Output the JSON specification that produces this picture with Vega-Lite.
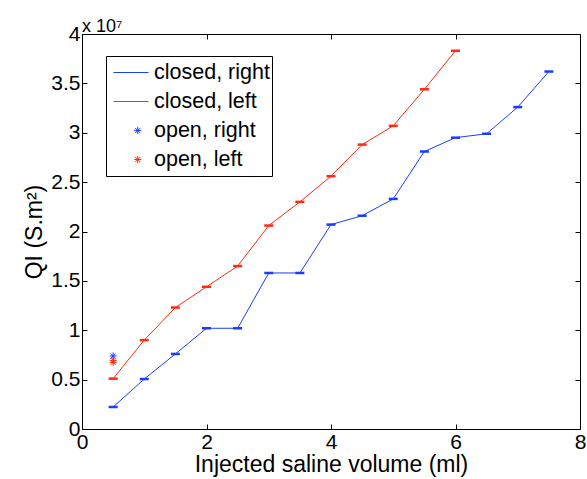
{
  "$schema": "https://vega.github.io/schema/vega-lite/v6.json",
  "width": 498,
  "height": 395,
  "autosize": {"type": "none"},
  "padding": {"left": 82, "top": 34, "right": 7, "bottom": 50},
  "title": {"text": "x 10⁷", "anchor": "start", "frame": "group", "fontSize": 18, "fontWeight": "normal", "font": "Liberation Sans", "offset": -13, "color": "black"},
  "config": {
    "view": {"stroke": "black", "strokeWidth": 1},
    "font": "Liberation Sans",
    "axis": {
      "grid": false, "domain": false, "tickColor": "black", "tickSize": -5, "labelFlush": false,
      "labelFontSize": 21, "labelColor": "black", "labelFont": "Liberation Sans",
      "titleFontSize": 23, "titleFontWeight": "normal", "titleColor": "black", "titleFont": "Liberation Sans"
    }
  },
  "data": {"values": [
    {"series": "closed, right", "x": 0.5, "y": 2230000},
    {"series": "closed, right", "x": 1.0, "y": 5060000},
    {"series": "closed, right", "x": 1.5, "y": 7600000},
    {"series": "closed, right", "x": 2.0, "y": 10200000},
    {"series": "closed, right", "x": 2.5, "y": 10200000},
    {"series": "closed, right", "x": 3.0, "y": 15800000},
    {"series": "closed, right", "x": 3.5, "y": 15800000},
    {"series": "closed, right", "x": 4.0, "y": 20700000},
    {"series": "closed, right", "x": 4.5, "y": 21600000},
    {"series": "closed, right", "x": 5.0, "y": 23300000},
    {"series": "closed, right", "x": 5.5, "y": 28100000},
    {"series": "closed, right", "x": 6.0, "y": 29500000},
    {"series": "closed, right", "x": 6.5, "y": 29900000},
    {"series": "closed, right", "x": 7.0, "y": 32600000},
    {"series": "closed, right", "x": 7.5, "y": 36200000},
    {"series": "closed, left", "x": 0.5, "y": 5100000},
    {"series": "closed, left", "x": 1.0, "y": 9000000},
    {"series": "closed, left", "x": 1.5, "y": 12300000},
    {"series": "closed, left", "x": 2.0, "y": 14400000},
    {"series": "closed, left", "x": 2.5, "y": 16500000},
    {"series": "closed, left", "x": 3.0, "y": 20600000},
    {"series": "closed, left", "x": 3.5, "y": 23000000},
    {"series": "closed, left", "x": 4.0, "y": 25600000},
    {"series": "closed, left", "x": 4.5, "y": 28800000},
    {"series": "closed, left", "x": 5.0, "y": 30700000},
    {"series": "closed, left", "x": 5.5, "y": 34400000},
    {"series": "closed, left", "x": 6.0, "y": 38300000},
    {"series": "open, right", "x": 0.5, "y": 7400000},
    {"series": "open, left", "x": 0.5, "y": 6950000},
    {"series": "open, left", "x": 0.5, "y": 6750000}
  ]},
  "layer": [
    {
      "transform": [{"filter": "indexof(datum.series, 'closed') == 0"}],
      "mark": {"type": "line", "strokeWidth": 1},
      "encoding": {
        "x": {"field": "x", "type": "quantitative", "scale": {"domain": [0, 8]}, "axis": {"orient": "bottom", "title": "Injected saline volume (ml)", "values": [0, 2, 4, 6, 8], "labelPadding": 7, "titlePadding": 1}},
        "y": {"field": "y", "type": "quantitative", "scale": {"domain": [0, 40000000]}, "axis": {"orient": "left", "title": "QI (S.m²)", "values": [0, 5000000, 10000000, 15000000, 20000000, 25000000, 30000000, 35000000, 40000000], "labelExpr": "datum.value / 10000000", "labelPadding": 7, "titlePadding": 4}},
        "stroke": {
          "field": "series", "type": "nominal",
          "scale": {"domain": ["closed, right", "closed, left", "open, right", "open, left"], "range": ["#1a3cff", "#ff2a10", "transparent", "transparent"]},
          "legend": {
            "title": null, "orient": "none", "legendX": 24, "legendY": 22,
            "strokeColor": "black", "fillColor": "transparent", "padding": 2,
            "labelFontSize": 21.5, "labelFont": "Liberation Sans", "labelColor": "black",
            "symbolType": "stroke", "symbolSize": 1225, "symbolStrokeWidth": 1, "symbolOffset": 5, "labelOffset": 5,
            "clipHeight": 29, "rowPadding": 0
          }
        }
      }
    },
    {
      "transform": [{"filter": "indexof(datum.series, 'closed') == 0"}],
      "mark": {"type": "point", "filled": false, "shape": "M-1,0H1", "size": 81, "strokeWidth": 2.5, "opacity": 1},
      "encoding": {
        "x": {"field": "x", "type": "quantitative", "scale": {"domain": [0, 8]}, "axis": {"orient": "top", "labels": false, "title": null, "values": [0, 2, 4, 6, 8]}},
        "y": {"field": "y", "type": "quantitative", "scale": {"domain": [0, 40000000]}, "axis": {"orient": "right", "labels": false, "title": null, "values": [0, 5000000, 10000000, 15000000, 20000000, 25000000, 30000000, 35000000, 40000000]}},
        "stroke": {
          "field": "series", "type": "nominal",
          "scale": {"domain": ["closed, right", "closed, left", "open, right", "open, left"], "range": ["#1a3cff", "#ff2a10", "transparent", "transparent"]},
          "legend": null
        }
      }
    },
    {
      "transform": [{"filter": "indexof(datum.series, 'open') == 0"}],
      "mark": {"type": "point", "filled": false, "shape": "M0,-1V1M-1,0H1M-0.71,-0.71L0.71,0.71M-0.71,0.71L0.71,-0.71", "size": 50, "strokeWidth": 1, "opacity": 1},
      "encoding": {
        "x": {"field": "x", "type": "quantitative", "scale": {"domain": [0, 8]}, "axis": null},
        "y": {"field": "y", "type": "quantitative", "scale": {"domain": [0, 40000000]}, "axis": null},
        "color": {
          "field": "series", "type": "nominal",
          "scale": {"domain": ["row 1", "row 2", "open, right", "open, left"], "range": ["transparent", "transparent", "#1a3cff", "#ff2a10"]},
          "legend": {
            "title": null, "orient": "none", "legendX": 24, "legendY": 22,
            "strokeColor": "transparent", "fillColor": "transparent", "padding": 2,
            "labelFontSize": 21.5, "labelFont": "Liberation Sans", "labelColor": "transparent",
            "labelExpr": "''",
            "symbolType": "M0,-1V1M-1,0H1M-0.71,-0.71L0.71,0.71M-0.71,0.71L0.71,-0.71",
            "symbolSize": 50, "symbolStrokeWidth": 1, "symbolOffset": 19, "labelOffset": 5,
            "clipHeight": 29, "rowPadding": 0
          }
        }
      }
    }
  ],
  "resolve": {"axis": {"x": "independent", "y": "independent"}}
}
